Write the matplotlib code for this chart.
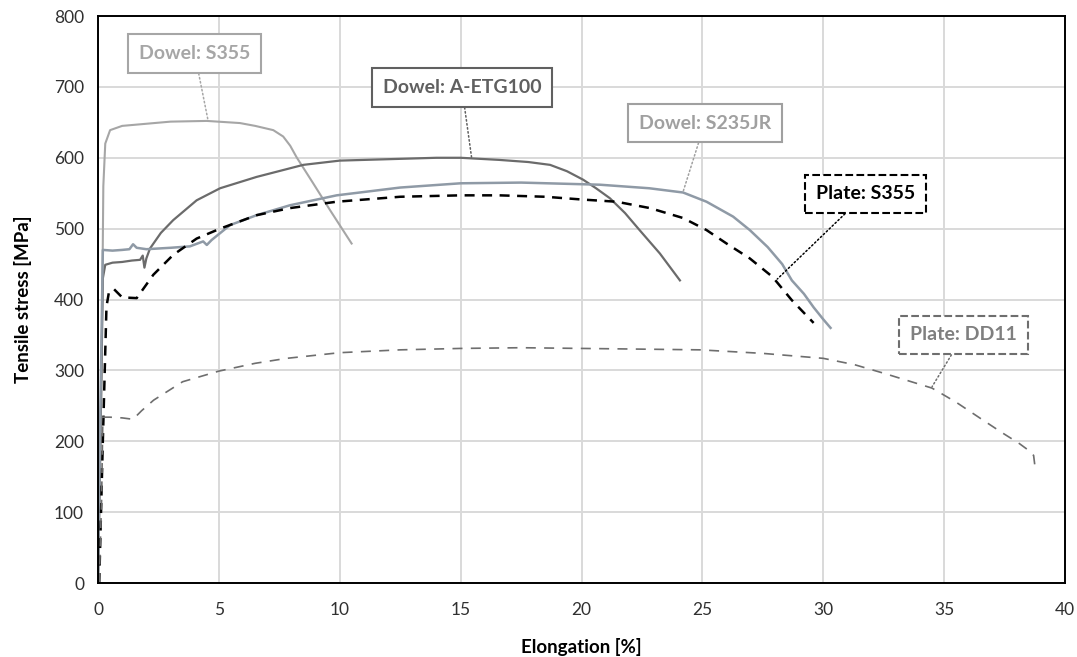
import matplotlib
matplotlib.use("Agg")
import matplotlib.pyplot as plt

plt.rcParams["font.family"] = ["Lato", "DejaVu Sans"]

# Dowel: S355
dowel_s355_x = [0, 0.15, 0.22, 0.3, 0.5, 1.0, 2.0, 3.0, 4.5, 5.87, 6.5, 7.0, 7.25, 7.66, 7.95, 8.21, 8.9, 9.6, 10.49]
dowel_s355_y = [0, 300, 560, 620, 639, 645, 648, 651, 652, 649, 645, 641, 639, 630, 617, 601, 564, 526, 479]

# Dowel: A-ETG100
dowel_etg_x = [0, 0.1, 0.2, 0.3, 0.6, 1.0, 1.4, 1.74, 1.85, 1.92, 2.0, 2.15, 2.6, 3.11, 4.08, 5.05, 6.56,
               8.49, 10, 12, 14, 15, 16.6, 17.8, 18.7, 19.4, 20.07, 20.6, 21.17, 21.8, 22.4, 23.24, 24.07]
dowel_etg_y = [0, 200, 430, 449, 452, 453, 455, 456, 462, 445, 458, 472, 494, 512, 540, 557, 573,
               590, 596, 598, 600, 600, 597, 594, 590, 581, 569, 557, 543, 522, 498, 465, 427]

# Dowel: S235JR
dowel_s235_x = [0, 0.1, 0.2, 0.6, 1.0, 1.3, 1.45, 1.6, 2.0, 2.5, 3.0, 3.8, 4.35, 4.5, 4.7, 5.46, 6.56, 7.94,
                9.87, 12.5, 15, 17.5, 20.76, 22.8, 24.2, 25.17, 26.27, 26.96, 27.7, 28.3, 28.7, 29.2, 29.6,
                30.0, 30.3]
dowel_s235_y = [0, 250, 470, 469, 470, 471, 478, 473, 471, 472, 473, 475, 482, 477, 484, 505, 519, 533,
                547, 558, 564, 565, 562, 557, 551, 538, 517, 498, 474, 450, 427, 408, 389,
                372, 360]

# Plate: S355
plate_s355_x = [0.05, 0.2, 0.35, 0.45, 0.65, 1.0, 1.6, 2.29, 3.11, 4.08, 5.05, 6.56, 7.94, 9.87, 12.5, 15,
                16.6, 18.5, 20.06, 21.45, 22.83, 24.2, 25.17, 26.0, 26.96, 27.9, 28.7, 29.6]
plate_s355_y = [0, 200, 390, 410, 415, 403, 402, 435, 463, 486, 500, 519, 529, 538, 545, 547,
                547, 545, 541, 538, 529, 515, 498, 479, 458, 432, 399, 367]

# Plate: DD11
plate_dd11_x = [0.05, 0.15, 0.2, 0.5, 1.0, 1.45, 1.8, 2.3, 3.5, 5.0, 6.5, 7.8, 10, 12.5, 15, 17.5, 20, 22.5,
                24.9, 27.5, 30, 31.3, 32.5, 34.5, 35.5, 36.6, 37.4, 38.1, 38.5, 38.7, 38.75]
plate_dd11_y = [0, 120, 234, 234, 233, 231, 243, 258, 284, 299, 310, 317, 325, 329, 331, 332, 331, 330,
                329, 324, 317, 308, 296, 275, 255, 230, 212, 197, 187, 180, 166]

fig = plt.figure(figsize=(10.77, 6.57), dpi=100)
ax = fig.add_axes([0.091, 0.1126, 0.8979, 0.863])

ax.plot(dowel_s355_x, dowel_s355_y, color="#a6a6a6", lw=1.5)
ax.plot(dowel_etg_x, dowel_etg_y, color="#6b6b6b", lw=1.6)
ax.plot(dowel_s235_x, dowel_s235_y, color="#8f9aa6", lw=1.8)
ax.plot(plate_s355_x, plate_s355_y, color="black", lw=1.8, dashes=(4, 3))
ax.plot(plate_dd11_x, plate_dd11_y, color="#6e6e6e", lw=1.2, dashes=(6, 5))

ax.set_xlim(0, 40)
ax.set_ylim(0, 800)
ax.set_xticks(range(0, 41, 5))
ax.set_yticks(range(0, 801, 100))
ax.grid(color="#d9d9d9", lw=1.4)
ax.set_axisbelow(True)
for s in ax.spines.values():
    s.set_linewidth(1.4)
    s.set_color("black")
ax.tick_params(length=0, labelsize=12.5, pad=10, colors="#303030")
ax.tick_params(axis="x", pad=14)

ax.set_xlabel("Elongation [%]", fontsize=13.5, fontweight="bold", labelpad=14)
ax.set_ylabel("Tensile stress [MPa]", fontsize=13.5, fontweight="bold", labelpad=16)


def label(text, xy, xytext, tcolor, ecolor, ls="-"):
    ax.annotate(
        text, xy=xy, xytext=xytext, ha="center", va="center",
        fontsize=14, fontweight="bold", color=tcolor,
        bbox=dict(boxstyle="square,pad=0.55", fc="white", ec=ecolor, lw=1.5, ls=ls),
        arrowprops=dict(arrowstyle="-", color=ecolor, lw=1.1, ls=":", shrinkA=0, shrinkB=0),
    )


label("Dowel: S355", (4.55, 653), (4.0, 747), "#a6a6a6", "#a6a6a6")
label("Dowel: A-ETG100", (15.45, 601), (15.05, 699), "#606060", "#606060")
label("Dowel: S235JR", (24.2, 552), (25.1, 649), "#a0a0a0", "#a0a0a0")
label("Plate: S355", (28.1, 429), (31.75, 549), "black", "black", ls="--")
label("Plate: DD11", (34.5, 277), (35.8, 350), "#7f7f7f", "#6e6e6e", ls="--")

fig.savefig("out.png", dpi=100)
